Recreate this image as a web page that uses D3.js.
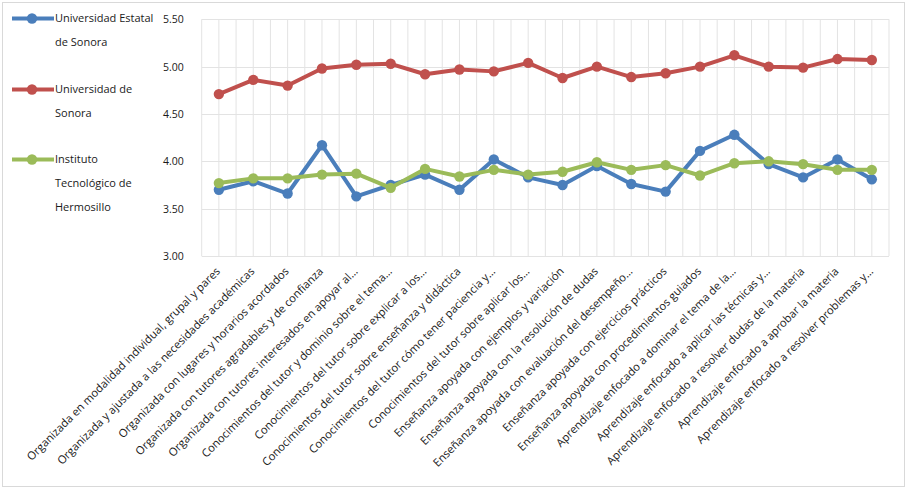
<!DOCTYPE html>
<html>
<head>
<meta charset="utf-8">
<script src="https://cdn.jsdelivr.net/npm/d3@7"></script>
<style>
  body { margin: 0; background: #fff; }
  svg { font-family: "Open Sans", sans-serif; }
  .grid line { stroke: #e3e3e3; stroke-width: 1; }
  .axis text { fill: #1a1a1a; }
</style>
</head>
<body>
<svg id="chart" width="907" height="489"></svg>
<script>
// categories (x axis)
var categories = [
    "Organizada en modalidad individual, grupal y pares",
    "Organizada y ajustada a las necesidades académicas",
    "Organizada con lugares y horarios acordados",
    "Organizada con tutores agradables y de confianza",
    "Organizada con tutores interesados en apoyar al…",
    "Conocimientos del tutor y dominio sobre el tema…",
    "Conocimientos del tutor sobre explicar a los…",
    "Conocimientos del tutor sobre enseñanza y didáctica",
    "Conocimientos del tutor cómo tener paciencia y…",
    "Conocimientos del tutor sobre aplicar los…",
    "Enseñanza apoyada con ejemplos y variación",
    "Enseñanza apoyada con la resolución de dudas",
    "Enseñanza apoyada con evaluación del desempeño…",
    "Enseñanza apoyada con ejercicios prácticos",
    "Enseñanza apoyada con procedimientos guiados",
    "Aprendizaje enfocado a dominar el tema de la…",
    "Aprendizaje enfocado a aplicar las técnicas y…",
    "Aprendizaje enfocado a resolver dudas de la materia",
    "Aprendizaje enfocado a aprobar la materia",
    "Aprendizaje enfocado a resolver problemas y…"
];

// series values
var uesValues = [3.70, 3.79, 3.66, 4.17, 3.63, 3.75, 3.86, 3.70, 4.02, 3.83,
                 3.75, 3.95, 3.76, 3.68, 4.11, 4.28, 3.97, 3.83, 4.02, 3.81];
var usonValues = [4.71, 4.86, 4.80, 4.98, 5.02, 5.03, 4.92, 4.97, 4.95, 5.04,
                  4.88, 5.00, 4.89, 4.93, 5.00, 5.12, 5.00, 4.99, 5.08, 5.07];
var ithValues = [3.77, 3.82, 3.82, 3.86, 3.87, 3.72, 3.92, 3.84, 3.91, 3.86,
                 3.89, 3.99, 3.91, 3.96, 3.85, 3.98, 4.00, 3.97, 3.91, 3.91];

// y ticks
var yTicks = [3.00, 3.50, 4.00, 4.50, 5.00, 5.50];

// legend text (split in lines like the original)
var seriesNames = [
    ["Universidad Estatal", "de Sonora"],
    ["Universidad de", "Sonora"],
    ["Instituto", "Tecnológico de", "Hermosillo"]
];
var seriesColors = ["#4a7ebb", "#c0504d", "#9bbb59"];

var series = [
    {name: seriesNames[0], color: seriesColors[0], values: uesValues},
    {name: seriesNames[1], color: seriesColors[1], values: usonValues},
    {name: seriesNames[2], color: seriesColors[2], values: ithValues}
];

var svg = d3.select("#chart");

// outer chart border
svg.append("rect")
    .attr("x", 2.5).attr("y", 2.5)
    .attr("width", 902).attr("height", 484)
    .attr("fill", "#fff")
    .attr("stroke", "#d9d9d9");

var plot = {left: 201.7, right: 889, top: 19.3, bottom: 256};

var x = d3.scaleBand()
    .domain(categories)
    .range([plot.left, plot.right])
    .padding(0);

var y = d3.scaleLinear()
    .domain([3, 5.5])
    .range([plot.bottom, plot.top]);

function cx(c) { return x(c) + x.bandwidth() / 2; }

// gridlines: horizontal
var grid = svg.append("g").attr("class", "grid");
grid.selectAll(".h")
    .data(yTicks)
    .enter().append("line")
    .attr("x1", plot.left).attr("x2", plot.right)
    .attr("y1", function(d) { return Math.round(y(d)) + 0.5; })
    .attr("y2", function(d) { return Math.round(y(d)) + 0.5; });

// gridlines: vertical at each category edge and centre
var vPos = [];
categories.forEach(function(c) { vPos.push(x(c)); vPos.push(cx(c)); });
vPos.push(plot.right);
grid.selectAll(".v")
    .data(vPos)
    .enter().append("line")
    .attr("x1", function(d) { return d; }).attr("x2", function(d) { return d; })
    .attr("y1", plot.top).attr("y2", plot.bottom);

// y axis labels
var yAxis = svg.append("g")
    .attr("class", "axis y")
    .attr("transform", "translate(" + (plot.left - 18) + ",0)")
    .call(d3.axisLeft(y).tickValues(yTicks).tickFormat(d3.format(".2f")).tickSize(0).tickPadding(0));
yAxis.select(".domain").remove();
yAxis.selectAll("text").attr("font-size", "10.5px").attr("font-family", "'Open Sans', sans-serif");

// x axis labels, rotated
var xAxis = svg.append("g")
    .attr("class", "axis x")
    .attr("transform", "translate(0," + plot.bottom + ")")
    .call(d3.axisBottom(x).tickSize(0).tickPadding(0));
xAxis.select(".domain").remove();
xAxis.selectAll("text")
    .attr("font-size", "11.2px")
    .attr("font-family", "'Open Sans', sans-serif")
    .attr("text-anchor", "end")
    .attr("dy", null)
    .attr("y", 0)
    .attr("transform", "translate(2,16) rotate(-45)");

// lines and markers
var line = d3.line()
    .x(function(d, i) { return cx(categories[i]); })
    .y(function(d) { return y(d); });

series.forEach(function(s) {
    svg.append("path")
        .datum(s.values)
        .attr("fill", "none")
        .attr("stroke", s.color)
        .attr("stroke-width", 4)
        .attr("stroke-linejoin", "round")
        .attr("d", line);
    svg.selectAll(null)
        .data(s.values)
        .enter().append("circle")
        .attr("cx", function(d, i) { return cx(categories[i]); })
        .attr("cy", function(d) { return y(d); })
        .attr("r", 5.2)
        .attr("fill", s.color);
});

// legend
var legendY = [18.5, 89.5, 159.5];
var legend = svg.append("g").attr("class", "legend");
series.forEach(function(s, i) {
    var g = legend.append("g").attr("transform", "translate(0," + legendY[i] + ")");
    g.append("line")
        .attr("x1", 12).attr("x2", 54)
        .attr("stroke", s.color).attr("stroke-width", 4);
    g.append("circle").attr("cx", 32).attr("r", 5.2).attr("fill", s.color);
    g.selectAll("text")
        .data(s.name)
        .enter().append("text")
        .attr("x", 55)
        .attr("y", function(d, j) { return j * 23.7; })
        .attr("dy", "0.35em")
        .attr("font-size", "11px")
        .attr("fill", "#1a1a1a")
        .text(function(d) { return d; });
});
</script>
</body>
</html>
